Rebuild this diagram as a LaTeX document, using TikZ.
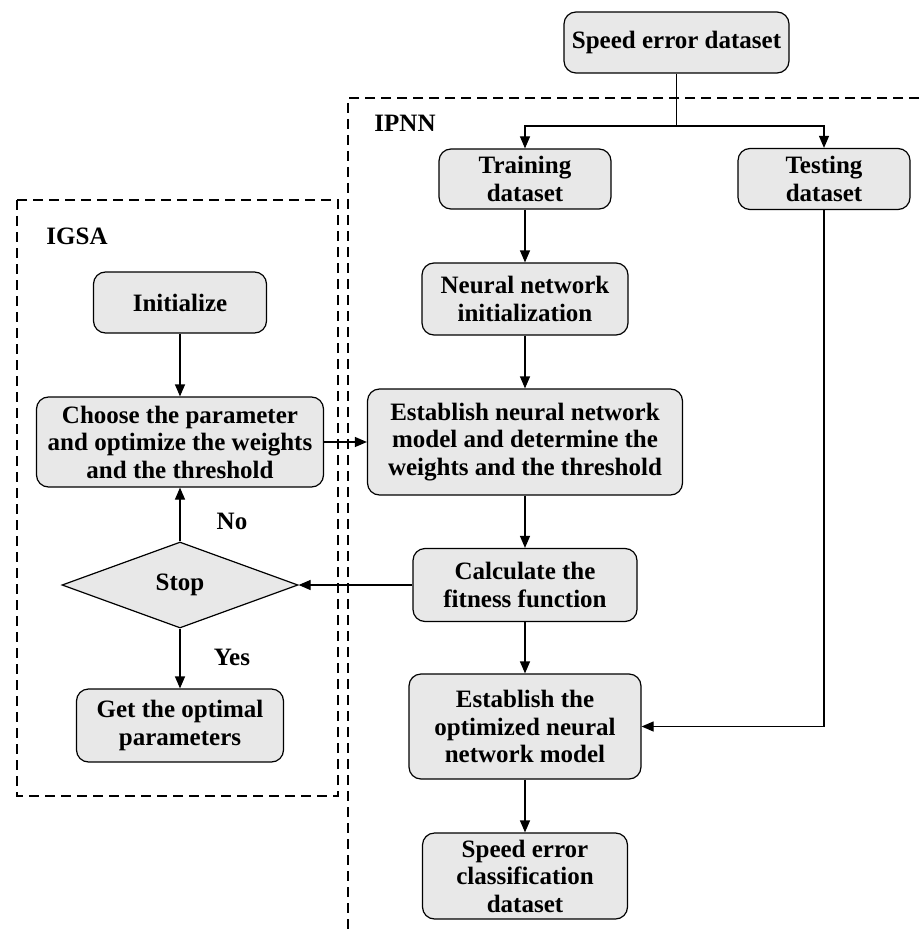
\documentclass[tikz,border=0pt]{standalone}
\usepackage{fontspec}
\setmainfont{Liberation Serif}
\usetikzlibrary{arrows.meta,shapes.geometric}
\definecolor{boxfill}{RGB}{232,232,232}
\tikzset{
  box/.style={draw=black, line width=1.2pt, fill=boxfill, rounded corners=12pt, align=center, inner sep=0pt, font=\bfseries\fontsize{25}{27.5}\selectfont},
  decision/.style={draw=black, line width=1.2pt, fill=boxfill, diamond, inner sep=0pt, font=\bfseries\fontsize{25}{27.5}\selectfont},
  lbl/.style={font=\bfseries\fontsize{25}{27.5}\selectfont, inner sep=0pt},
  conn/.style={line width=1.2pt, -{Triangle[length=12pt,width=10pt]}},
  plain/.style={line width=1.2pt},
  frame/.style={line width=1.2pt, dash pattern=on 10pt off 6pt},
}
\begin{document}
\begin{tikzpicture}[x=1pt,y=-1pt]
\useasboundingbox (0,0) rectangle (919,933);
% frames
\draw[frame] (17,200) rectangle (338,796);
\draw[frame] (919,98) -- (348,98) -- (348,933);
\node[lbl] (igsa) at (77,236) {IGSA};
\node[lbl] (ipnn) at (405,123) {IPNN};
% IPNN column
\node[box, minimum width=225pt, minimum height=61pt] (sed) at (676.5,42.5) {Speed error dataset};
\node[box, minimum width=172pt, minimum height=60pt] (train) at (525,179) {Training\\dataset};
\node[box, minimum width=172pt, minimum height=61pt] (test) at (824,179) {Testing\\dataset};
\node[box, minimum width=206pt, minimum height=72pt] (nni) at (525,299) {Neural network\\initialization};
\node[box, minimum width=315pt, minimum height=106pt] (est) at (525,442) {Establish neural network\\model and determine the\\weights and the threshold};
\node[box, minimum width=224pt, minimum height=73pt] (calc) at (525,585) {Calculate the\\fitness function};
\node[box, minimum width=232pt, minimum height=105pt] (opt) at (525,726.5) {Establish the\\optimized neural\\network model};
\node[box, minimum width=205pt, minimum height=86pt] (secd) at (525,876) {Speed error\\classification\\dataset};
% IGSA column
\node[box, minimum width=173pt, minimum height=61pt] (init) at (180,302.5) {Initialize};
\node[box, minimum width=287pt, minimum height=90pt] (choose) at (180,442) {Choose the parameter\\and optimize the weights\\and the threshold};
\node[decision, minimum width=236pt, minimum height=86pt, aspect=2.744] (stop) at (180,585) {Stop};
\node[box, minimum width=207pt, minimum height=73pt] (get) at (180,725.5) {Get the optimal\\parameters};
\node[lbl] (no) at (232,521) {No};
\node[lbl] (yes) at (232,657) {Yes};
% connectors
\coordinate (j) at (676.5,126);
\draw[plain] (sed) -- (j);
\draw[conn] (j) -| (train);
\draw[conn] (j) -| (test);
\draw[conn] (train) -- (nni);
\draw[conn] (nni) -- (est);
\draw[conn] (est) -- (calc);
\draw[conn] (calc) -- (opt);
\draw[conn] (opt) -- (secd);
\draw[conn] (test) |- (opt);
\draw[conn] (init) -- (choose);
\draw[conn] (choose) -- (est);
\draw[conn] (calc) -- (stop);
\draw[conn] (stop) -- (choose);
\draw[conn] (stop) -- (get);
\end{tikzpicture}
\end{document}
